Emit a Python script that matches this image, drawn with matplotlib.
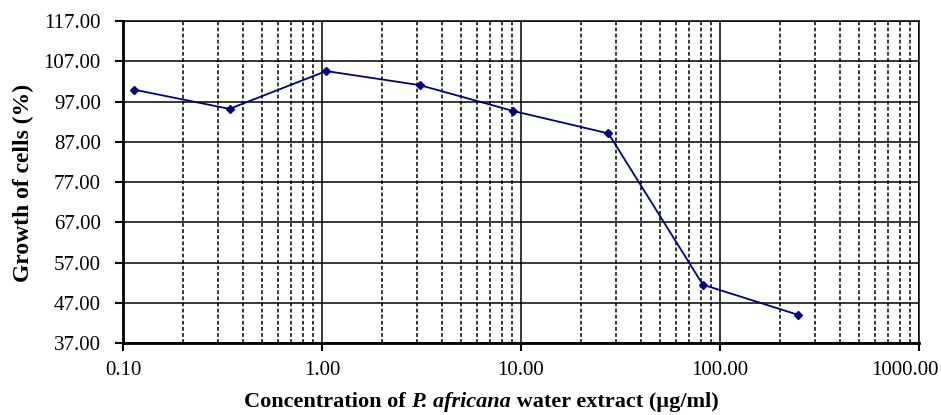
import matplotlib.pyplot as plt
from matplotlib.ticker import FixedLocator, LogLocator, NullFormatter
from matplotlib.transforms import ScaledTranslation

# concentration (ug/ml) and growth of cells (%)
conc = [0.113, 0.343, 1.05, 3.1, 9.1, 27.5, 82.0, 247.0]
growth = [100.0, 95.2, 104.6, 101.1, 94.7, 89.1, 51.5, 44.0]

yticks = [37, 47, 57, 67, 77, 87, 97, 107, 117]
xticks = [0.1, 1, 10, 100, 1000]

plt.rcParams['font.family'] = ['Liberation Serif', 'DejaVu Serif']

fig = plt.figure(figsize=(9.41, 4.15), dpi=100)
ax = fig.add_axes([0.1307, 0.1735, 0.8459, 0.7755])

ax.set_xscale('log')
ax.set_xlim(0.1, 1000)
ax.set_ylim(37, 117)

ax.xaxis.set_major_locator(FixedLocator(xticks))
ax.xaxis.set_minor_locator(LogLocator(base=10, subs=range(2, 10)))
ax.xaxis.set_minor_formatter(NullFormatter())
ax.set_xticklabels(['%.2f' % v for v in xticks])
ax.set_yticks(yticks)
ax.set_yticklabels(['%.2f' % v for v in yticks])

ax.grid(True, which='major', axis='both', color='black', linestyle='-', linewidth=1.1)
ax.grid(True, which='minor', axis='x', color='black', linestyle=(0, (2.5, 1.5)), linewidth=1.1)
ax.set_axisbelow(True)

ax.plot(conc, growth, color='#000080', linewidth=1.3, marker='D', markersize=4.5,
        markerfacecolor='#000080', markeredgecolor='#000080', zorder=3)

for s in ax.spines.values():
    s.set_color('black')
    s.set_linewidth(1.1)
ax.spines['left'].set_linewidth(2)
ax.spines['bottom'].set_linewidth(2)

ax.tick_params(axis='both', which='major', labelsize=15, direction='out', length=6,
               width=1.5, colors='black')
ax.tick_params(axis='y', pad=10)
ax.tick_params(axis='x', which='minor', length=0)
ax.tick_params(axis='x', pad=7)

# last x label sits left of its tick, like the original
last = ax.get_xticklabels()[-1]
last.set_transform(last.get_transform() + ScaledTranslation(-0.14, 0, fig.dpi_scale_trans))

ax.set_ylabel('Growth of cells (%)', fontsize=17, fontweight='bold')
ax.yaxis.set_label_coords(23 / 941, (415 - 183) / 415, transform=fig.transFigure)
ax.yaxis.label.set_va('center')

# x label with italic species name
lbl_y = 0.02
parts = [('Concentration of ', 'normal'), ('P. africana', 'italic'),
         (' water extract (µg/ml)', 'normal')]
renderer = fig.canvas.get_renderer()
objs = []
widths = []
for txt, st in parts:
    o = fig.text(0, lbl_y, txt, fontsize=16, fontweight='bold', style=st,
                 ha='left', va='baseline')
    objs.append(o)
    widths.append(o.get_window_extent(renderer).width)
x0 = 481 - sum(widths) / 2
for o, w in zip(objs, widths):
    o.set_x(x0 / fig.bbox.width)
    x0 += w

fig.savefig('out.png', dpi=100)
